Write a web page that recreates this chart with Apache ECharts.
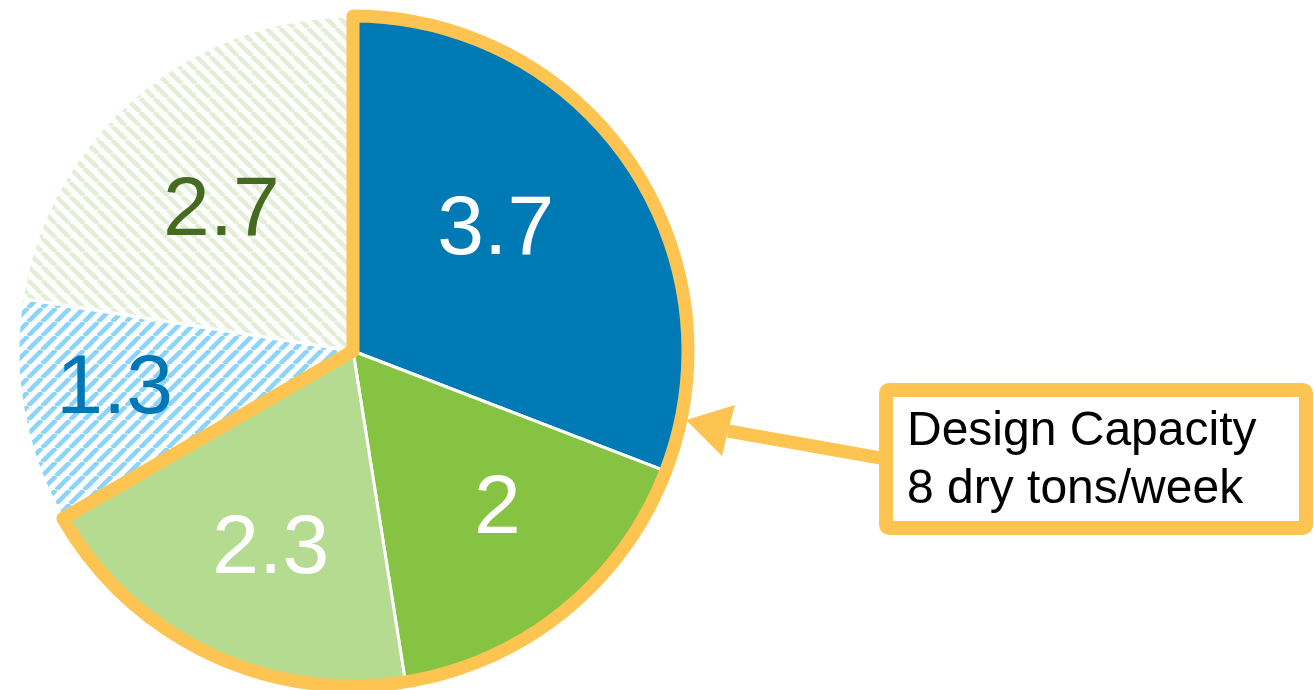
<!DOCTYPE html>
<html>
<head>
<meta charset="utf-8">
<style>
html,body{margin:0;padding:0;background:#ffffff;}
#chart{width:1314px;height:690px;}
</style>
<script src="https://cdn.jsdelivr.net/npm/echarts@6/dist/echarts.min.js"></script>
</head>
<body>
<div id="chart"></div>
<script>
// ---- data ----
const categories = ['A', 'B', 'C', 'D', 'E'];
const values = [3.7, 2, 2.3, 1.3, 2.7];
const designCapacity = 8;
const annotationLines = ['Design Capacity', '8 dry tons/week'];

// ---- styles ----
const ORANGE = '#FEC452';
const CX = 353, CY = 351, R = 335;

function hatch(color, dir, size, lw) {
  const c = document.createElement('canvas');
  c.width = size; c.height = size;
  const ctx = c.getContext('2d');
  ctx.fillStyle = '#ffffff';
  ctx.fillRect(0, 0, size, size);
  ctx.strokeStyle = color;
  ctx.lineWidth = lw;
  ctx.beginPath();
  for (const o of [-size, 0, size]) {
    if (dir === '/') { ctx.moveTo(o, size); ctx.lineTo(o + size, 0); }
    else { ctx.moveTo(o, 0); ctx.lineTo(o + size, size); }
  }
  ctx.stroke();
  return { image: c, repeat: 'repeat' };
}

const fills = [
  '#007AB5',
  '#86C342',
  '#B5DB90',
  hatch('#8DD4F8', '/', 14, 4.6),
  hatch('#E2EFD6', '\\', 14, 4.6)
];
const labelColors = ['#ffffff', '#ffffff', '#ffffff', '#0077B5', '#456B20'];
// small label nudges [dx, dy] (style only)
const nudges = [[-32, 0], [11, -6], [9, 7], [-30, 0], [6, 22]];

const total = values.reduce((a, b) => a + b, 0);

function padFor(n) {
  const [dx, dy] = n;
  return [dy > 0 ? 2 * dy : 0, dx < 0 ? -2 * dx : 0, dy < 0 ? -2 * dy : 0, dx > 0 ? 2 * dx : 0];
}

const chart = echarts.init(document.getElementById('chart'), null, { renderer: 'canvas' });

const option = {
  backgroundColor: '#ffffff',
  animation: false,
  series: [
    {
      type: 'pie',
      center: [CX, CY],
      radius: [0, R],
      startAngle: 90,
      clockwise: true,
      silent: true,
      label: { show: false },
      labelLine: { show: false },
      data: values.map((v, i) => ({
        name: categories[i],
        value: v,
        itemStyle: { color: fills[i], borderColor: '#ffffff', borderWidth: 3 }
      })),
      z: 1
    },
    {
      type: 'pie',
      center: [CX, CY],
      radius: [0, R],
      startAngle: 90,
      clockwise: true,
      silent: true,
      label: { show: false },
      labelLine: { show: false },
      data: [
        { name: 'Design capacity', value: designCapacity,
          itemStyle: { color: 'rgba(0,0,0,0)', borderColor: ORANGE, borderWidth: 13, borderJoin: 'round' } },
        { name: 'rest', value: total - designCapacity,
          itemStyle: { color: 'rgba(0,0,0,0)', borderWidth: 0 } }
      ],
      z: 2
    },
    {
      type: 'pie',
      center: [CX, CY],
      radius: [83, R],
      startAngle: 90,
      clockwise: true,
      silent: true,
      labelLine: { show: false },
      data: values.map((v, i) => ({
        name: categories[i],
        value: v,
        itemStyle: { color: 'rgba(0,0,0,0)', borderWidth: 0 },
        label: {
          show: true,
          position: 'inside',
          formatter: '{v|' + v + '}',
          padding: padFor(nudges[i]),
          rich: {
            v: {
              color: labelColors[i],
              fontFamily: '"Liberation Sans", Arial, sans-serif',
              fontSize: 84,
              lineHeight: 96
            }
          }
        }
      })),
      z: 3
    }
  ],
  graphic: [
    { type: 'line', z: 10, shape: { x1: 728, y1: 431, x2: 886, y2: 459 },
      style: { stroke: ORANGE, lineWidth: 13 } },
    { type: 'polygon', z: 10, shape: { points: [[686, 420], [735, 405], [728, 431], [722, 456]] },
      style: { fill: ORANGE } },
    { type: 'rect', z: 11, shape: { x: 886, y: 390, width: 420, height: 138, r: 3 },
      style: { fill: '#ffffff', stroke: ORANGE, lineWidth: 14 } },
    { type: 'text', z: 12, x: 907, y: 403,
      style: { text: annotationLines.join('\n'), fill: '#000000',
        font: '48px "Liberation Sans", Arial, sans-serif', lineHeight: 58,
        verticalAlign: 'top', align: 'left' } }
  ]
};
chart.setOption(option);
</script>
</body>
</html>
